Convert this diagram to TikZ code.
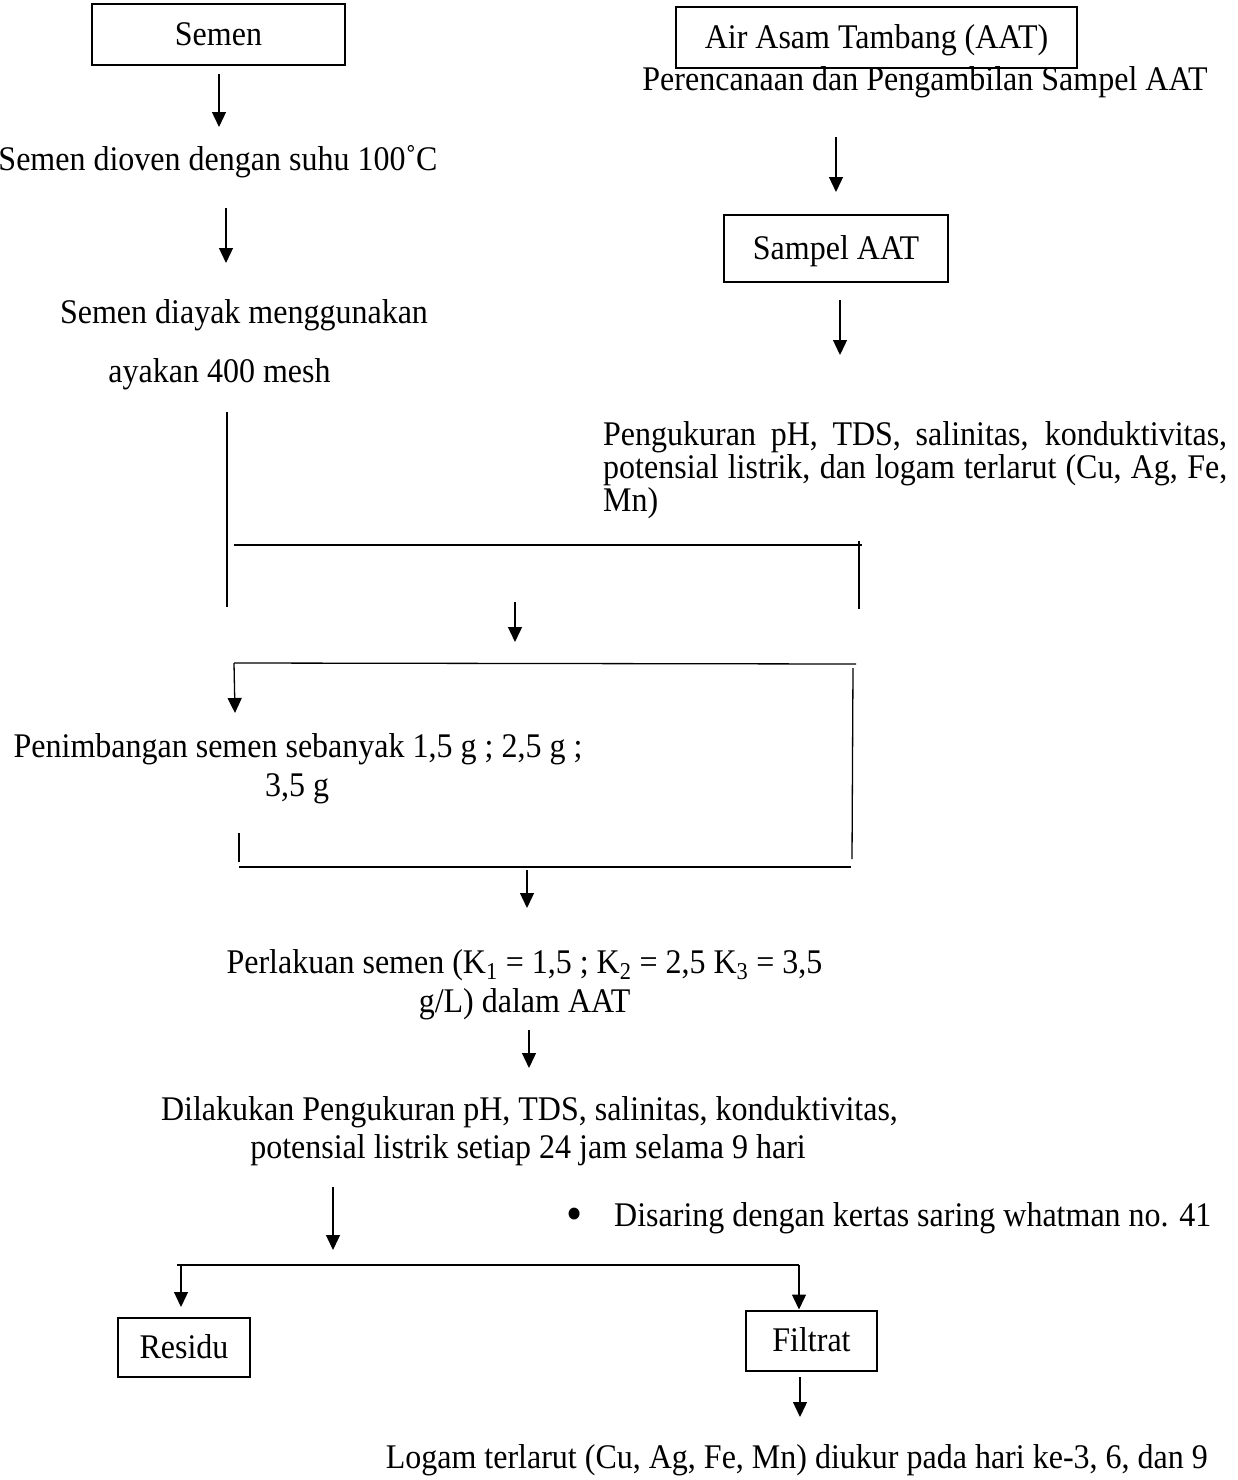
\documentclass[tikz,border=0pt]{standalone}
\usepackage{fontspec}
\usepackage{graphicx}
\setmainfont{Liberation Serif}
\usetikzlibrary{arrows.meta}
\newcommand\vst[1]{\scalebox{1}[1.08]{#1}}
\begin{document}
\begin{tikzpicture}[x=1pt,y=-1pt,
  txt/.style={font=\fontsize{32}{33}\selectfont, inner sep=0pt, anchor=base},
  boxnode/.style={draw, line width=2pt, font=\fontsize{32}{33}\selectfont, inner sep=0pt, text height=25pt, text depth=3pt},
  ln/.style={line width=1.3pt},
  arr/.style={line width=1.3pt, -{Triangle[width=14pt,length=15pt]}},
]
\useasboundingbox (0,0) rectangle (1238,1480);

% ---------- left column ----------
\node[boxnode, minimum width=253pt, minimum height=61pt] (semen) at (218.5,34.5) {\vst{Semen}};
\coordinate (a1s) at (219,74);
\coordinate (a1e) at (219,127);
\draw[arr] (a1s) -- (a1e);
\node[txt] (oven) at (218,170) {\vst{Semen dioven dengan suhu 100˚C}};
\coordinate (a2s) at (226,208);
\coordinate (a2e) at (226,263);
\draw[arr] (a2s) -- (a2e);
\node[txt] (ayak1) at (244,323) {\vst{Semen diayak menggunakan}};
\node[txt] (ayak2) at (219.5,382) {\vst{ayakan 400 mesh}};
\coordinate (l1s) at (227,412);
\coordinate (l1e) at (227,607);
\draw[ln] (l1s) -- (l1e);

% ---------- right column ----------
\node[boxnode, minimum width=401pt, minimum height=61pt] (aat) at (876.5,37.5) {\vst{Air Asam Tambang (AAT)}};
\node[txt] (renc) at (925,90) {\vst{Perencanaan dan Pengambilan Sampel AAT}};
\coordinate (r1s) at (836,137);
\coordinate (r1e) at (836,192);
\draw[arr] (r1s) -- (r1e);
\node[boxnode, minimum width=224pt, minimum height=67pt] (sampel) at (836,248.5) {\vst{Sampel AAT}};
\coordinate (r2s) at (840,300);
\coordinate (r2e) at (840,355);
\draw[arr] (r2s) -- (r2e);
\node[txt, anchor=base west] (ukur) at (603,445)
  {\vst{\parbox[t]{624pt}{\fontsize{32}{30.6}\selectfont\hyphenpenalty=10000 Pengukuran pH, TDS, salinitas, konduktivitas,\linebreak potensial listrik, dan logam terlarut (Cu, Ag, Fe,\linebreak Mn)}}};

% ---------- joining ----------
\coordinate (h1l) at (234,545);
\coordinate (h1r) at (862,545);
\draw[ln] (h1l) -- (h1r);
\coordinate (v1s) at (859,541);
\coordinate (v1e) at (859,609);
\draw[ln] (v1s) -- (v1e);
\coordinate (m1s) at (515,602);
\coordinate (m1e) at (515,642);
\draw[arr] (m1s) -- (m1e);

\coordinate (h2l) at (234,663);
\coordinate (h2r) at (856,664);
\draw[ln] (h2l) -- (h2r);
\coordinate (pl) at (235,713);
\draw[arr] (h2l) -- (pl);
\coordinate (v2s) at (853,668);
\coordinate (v2e) at (852,859);
\draw[ln] (v2s) -- (v2e);

\node[txt] (timb1) at (298,757) {\vst{Penimbangan semen sebanyak 1,5 g ; 2,5 g ;}};
\node[txt] (timb2) at (297,796) {\vst{3,5 g}};

\coordinate (v3s) at (239,833);
\coordinate (v3e) at (239,862);
\draw[ln] (v3s) -- (v3e);
\coordinate (h3l) at (239,867);
\coordinate (h3r) at (851,867);
\draw[ln] (h3l) -- (h3r);
\coordinate (m2s) at (527,870);
\coordinate (m2e) at (527,908);
\draw[arr] (m2s) -- (m2e);

\node[txt] (lak1) at (524.5,973) {\vst{Perlakuan semen (K\textsubscript{1} = 1,5 ; K\textsubscript{2} = 2,5 K\textsubscript{3} = 3,5}};
\node[txt] (lak2) at (524.5,1012) {\vst{g/L) dalam AAT}};
\coordinate (m3s) at (529,1030);
\coordinate (m3e) at (529,1068);
\draw[arr] (m3s) -- (m3e);

\node[txt] (dil1) at (529.5,1120) {\vst{Dilakukan Pengukuran pH, TDS, salinitas, konduktivitas,}};
\node[txt] (dil2) at (528,1158) {\vst{potensial listrik setiap 24 jam selama 9 hari}};

\coordinate (m4s) at (333,1187);
\coordinate (m4e) at (333,1250);
\draw[arr] (m4s) -- (m4e);
\node[txt, anchor=base west] (saring) at (566,1226) {\vst{\makebox[48pt][l]{\raisebox{-4pt}{\fontsize{46}{33}\selectfont •}}Disaring dengan kertas saring whatman no. 41}};

\coordinate (h4l) at (177,1265);
\coordinate (h4r) at (799,1265);
\draw[ln] (h4l) -- (h4r);
\coordinate (rs) at (181,1265);
\coordinate (re) at (181,1307);
\draw[arr] (rs) -- (re);
\coordinate (fs) at (799,1265);
\draw[arr] (fs) -- (799,1309.5);

\node[boxnode, minimum width=132pt, minimum height=59pt] (residu) at (184,1347.5) {\vst{Residu}};
\node[boxnode, minimum width=131pt, minimum height=60pt] (filtrat) at (811.5,1340.5) {\vst{Filtrat}};

\coordinate (bs) at (800,1377);
\coordinate (be) at (800,1417);
\draw[arr] (bs) -- (be);
\node[txt, anchor=base east] (logam) at (1208,1468) {\vst{Logam terlarut (Cu, Ag, Fe, Mn) diukur pada hari ke-3, 6, dan 9}};
\end{tikzpicture}
\end{document}
